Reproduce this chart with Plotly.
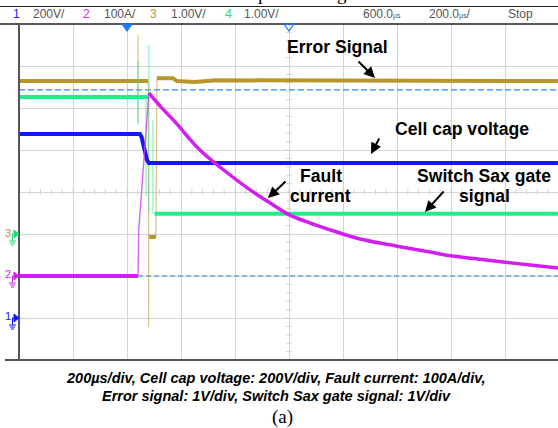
import plotly.graph_objects as go

# ---------------- scope settings ----------------
TIME_PER_DIV = 200          # µs/div
T_START = -400              # µs at left edge (trigger 2 div from left, delay 600 µs)
CH_SCALE = {"cap": 200, "cur": 100, "err": 1, "gate": 1}   # units/div
CH_GROUND = {"cap": -3, "cur": -2, "err": -1, "gate": -1}  # ground marker position, div

header_items = [("1", "#1a1aff"), ("200V/", None), ("2", "#d21ef0"), ("100A/", None),
                ("3", "#b8962e"), ("1.00V/", None), ("4", "#22e07a"), ("1.00V/", None)]

# ---------------- data ----------------
# Cell cap voltage (V)
cap_t = [-400, 48, 54, 59, 67, 74, 81, 1596]
cap_v = [876, 876, 862, 824, 790, 752, 738, 738]

# Fault current (A)
cur_base_t = [-400, 41]
cur_base_a = [0, 0]
cur_rise_t = [41, 41, 43, 81]
cur_rise_a = [0, 10, 105, 436]
cur_t = [81, 122, 178, 270, 363, 456, 530, 604, 752, 863, 1000, 1122, 1200, 1307, 1400, 1493, 1596]
cur_a = [436, 405, 367, 300, 250, 205, 174, 145, 110, 88, 71, 57, 48, 40, 33, 26, 19]

# Error signal (V)
err_t = [-400, 78, None, 82, 107, None, 111, 170, 185, 250, 330, 1596]
err_v = [3.64, 3.64, None, -0.07, -0.07, None, 3.71, 3.71, 3.64, 3.62, 3.66, 3.64]
err_edge_t = [41, 41, None, 79, 80, 80, None, 107, 111]
err_edge_v = [4.74, 2.64, None, 3.64, -2.21, 0.3, None, -0.07, 3.71]

# Switch Sax gate signal (V)
gate_t = [-400, 80, None, 102, 1596]
gate_v = [3.26, 3.26, None, 0.48, 0.48]
gate_edge_t = [41, 41, None, 81, 81, None, 70, 70, None, 96, 96]
gate_edge_v = [4.14, 2.6, None, 4.5, 0.48, None, 3.26, 0.9, None, 2.7, 0.48]

# reference / trigger levels
err_level_v = 3.43          # blue dashed level on ch3
cur_zero_t = [41, 1596]     # light dashed zero line of ch2
cur_zero_a = [0, 0]

# ---------------- geometry helpers ----------------
W, H = 558, 428
L, R, T, B = 19, 558, 24, 360
def px(x):
    return (x - L) / (R - L)
def py(y):
    return (B - y) / (B - T)

def to_div(vals, ch):
    return [None if v is None else v / CH_SCALE[ch] + CH_GROUND[ch] for v in vals]

X_END = T_START + (R - L) / 54 * TIME_PER_DIV

GOLD = "#b8962e"
GREEN = "#22ee88"
BLUE = "#1414ff"
MAG = "#d21ef0"
GRID = "#d4d4d4"

fig = go.Figure()

# minor ticks on centre cross
tick_x, tick_y = [], []
for k in range(-20, 21):
    d = k * 0.2
    tick_x += [600 - 11, 600 + 11, None]
    tick_y += [d, d, None]
for k in range(0, 51):
    t = T_START + k * 40
    tick_x += [t, t, None]
    tick_y += [-0.07, 0.07, None]
fig.add_trace(go.Scatter(x=tick_x, y=tick_y, mode="lines", line=dict(color=GRID, width=1),
                         hoverinfo="skip", showlegend=False))

# dashed levels
fig.add_trace(go.Scatter(x=[T_START, X_END], y=to_div([err_level_v, err_level_v], "err"), mode="lines",
                         line=dict(color="#2a8cff", width=1.2, dash="6px,3px"), showlegend=False))
fig.add_trace(go.Scatter(x=cur_zero_t, y=to_div(cur_zero_a, "cur"), mode="lines",
                         line=dict(color="#8db0dc", width=1.8, dash="5px,3px"), showlegend=False))

# error signal
fig.add_trace(go.Scatter(x=err_edge_t, y=to_div(err_edge_v, "err"), mode="lines",
                         line=dict(color="rgba(184,150,46,0.55)", width=1.2), showlegend=False))
fig.add_trace(go.Scatter(x=err_t, y=to_div(err_v, "err"), mode="lines",
                         line=dict(color=GOLD, width=4), showlegend=False))
# gate signal
fig.add_trace(go.Scatter(x=gate_edge_t, y=to_div(gate_edge_v, "gate"), mode="lines",
                         line=dict(color="rgba(60,235,150,0.6)", width=1.2), showlegend=False))
fig.add_trace(go.Scatter(x=gate_t, y=to_div(gate_v, "gate"), mode="lines",
                         line=dict(color=GREEN, width=4), showlegend=False))
# cell cap voltage
fig.add_trace(go.Scatter(x=cap_t, y=to_div(cap_v, "cap"), mode="lines",
                         line=dict(color=BLUE, width=4), showlegend=False))
# fault current
fig.add_trace(go.Scatter(x=cur_base_t, y=to_div(cur_base_a, "cur"), mode="lines",
                         line=dict(color=MAG, width=4), showlegend=False))
fig.add_trace(go.Scatter(x=cur_rise_t, y=to_div(cur_rise_a, "cur"), mode="lines",
                         line=dict(color="rgba(215,60,245,0.8)", width=1.4), showlegend=False))
fig.add_trace(go.Scatter(x=cur_t, y=to_div(cur_a, "cur"), mode="lines", line_shape="spline",
                         line=dict(color=MAG, width=3.5), showlegend=False))

shapes = []
# frame lines
shapes.append(dict(type="line", xref="paper", yref="paper", x0=px(0), x1=px(W), y0=py(24), y1=py(24),
                   line=dict(color="#222", width=1.5)))
shapes.append(dict(type="line", xref="paper", yref="paper", x0=px(0), x1=px(W), y0=py(6.5), y1=py(6.5),
                   line=dict(color="#222", width=1)))
shapes.append(dict(type="line", xref="paper", yref="paper", x0=px(19), x1=px(19), y0=py(24), y1=py(360),
                   line=dict(color="#555", width=2)))
shapes.append(dict(type="line", xref="paper", yref="paper", x0=px(5), x1=px(W), y0=py(360), y1=py(360),
                   line=dict(color="#555", width=2)))

# trigger markers on top
def tri_down(cx, cy, filled):
    p = f"M {px(cx-5)} {py(cy-4)} L {px(cx+5)} {py(cy-4)} L {px(cx)} {py(cy+3)} Z"
    return dict(type="path", xref="paper", yref="paper", path=p,
                fillcolor="#1e7bff" if filled else "rgba(0,0,0,0)",
                line=dict(color="#1e7bff", width=1.2))
shapes.append(tri_down(127, 28, True))
shapes.append(tri_down(289, 28, False))

# ground markers on left
def ground(y0, col):
    out = []
    out.append(dict(type="path", xref="paper", yref="paper",
                    path=f"M {px(14)} {py(y0-4)} L {px(19)} {py(y0)} L {px(14)} {py(y0+4)} Z",
                    fillcolor=col, line=dict(color=col, width=1)))
    segs = [(12, y0, 14, y0), (12.5, y0, 12.5, y0 + 7), (9, y0 + 7, 16, y0 + 7),
            (10, y0 + 9, 15, y0 + 9), (11, y0 + 11, 14, y0 + 11)]
    for x0, a, x1, b in segs:
        out.append(dict(type="line", xref="paper", yref="paper", x0=px(x0), x1=px(x1),
                        y0=py(a), y1=py(b), line=dict(color=col, width=1)))
    return out
shapes += ground(234, "#22dd77")
shapes += ground(276, MAG)
shapes += ground(318, BLUE)

ann = []
def txt(x, y, s, size=12, color="#000", family="Liberation Sans", xanchor="center", yanchor="middle"):
    ann.append(dict(x=px(x), y=py(y), xref="paper", yref="paper", text=s, showarrow=False,
                    xanchor=xanchor, yanchor=yanchor, font=dict(size=size, color=color, family=family)))

# header
hdr_x = [11, 31, 81, 102, 148, 169, 223, 242]
for (s, c), x in zip(header_items, hdr_x):
    txt(x, 14, s, size=12, color=c if c else "#555", xanchor="left")
txt(361, 14, "600.0<span style='font-size:7px'>µs</span>", 12, "#555", xanchor="left")
txt(427, 14, "200.0<span style='font-size:7px'>µs</span>/", 12, "#555", xanchor="left")
txt(506, 14, "Stop", 12, "#555", xanchor="left")

# ground labels
txt(8, 233, "3", 11, GOLD)
txt(8, 274, "2", 11, MAG)
txt(8, 316, "1", 11, BLUE)

# partial text of the cropped line above
txt(263, -7, "p", 19, "#000", family="Liberation Serif")
txt(342, -7, "g", 19, "#000", family="Liberation Serif")

# signal labels
F = 17.6
txt(337.5, 47, "<b>Error Signal</b>", F)
txt(461.5, 129, "<b>Cell cap voltage</b>", F)
txt(320.5, 176, "<b>Fault</b>", F)
txt(320.5, 196, "<b>current</b>", F)
txt(484, 176, "<b>Switch Sax gate</b>", F)
txt(484, 196, "<b>signal</b>", F)

def arrow(hx, hy, tx, ty):
    ann.append(dict(x=px(hx), y=py(hy), xref="paper", yref="paper", text="", showarrow=True,
                    ax=tx - hx, ay=ty - hy, arrowhead=2, arrowsize=1.1, arrowwidth=2, arrowcolor="#000"))
arrow(375, 78, 357, 60)
arrow(371, 154, 380, 137)
arrow(268, 198, 287, 180)
arrow(425, 212, 445, 190)

# caption
txt(276, 378, "<b><i>200µs/div, Cell cap voltage: 200V/div, Fault current: 100A/div,</i></b>", 14.5)
txt(276, 395.5, "<b><i>Error signal: 1V/div, Switch Sax gate signal: 1V/div</i></b>", 14.5)
txt(282, 417, "(a)", 19, family="Liberation Serif")

fig.update_layout(
    width=W, height=H, autosize=False,
    margin=dict(l=L, r=W - R, t=T, b=H - B, pad=0),
    paper_bgcolor="white", plot_bgcolor="white",
    shapes=shapes, annotations=ann, showlegend=False,
    xaxis=dict(range=[T_START, X_END], tick0=T_START, dtick=TIME_PER_DIV, showgrid=True,
               gridcolor=GRID, gridwidth=1, zeroline=False, showticklabels=False, ticks="",
               showline=False, fixedrange=True),
    yaxis=dict(range=[-4, 4], tick0=-4, dtick=1, showgrid=True, gridcolor=GRID, gridwidth=1,
               zeroline=False, showticklabels=False, ticks="", showline=False, fixedrange=True),
)

fig.write_html("out.html", config={"displayModeBar": False},
               post_script="document.body.style.margin='0';document.body.style.overflow='hidden';")
